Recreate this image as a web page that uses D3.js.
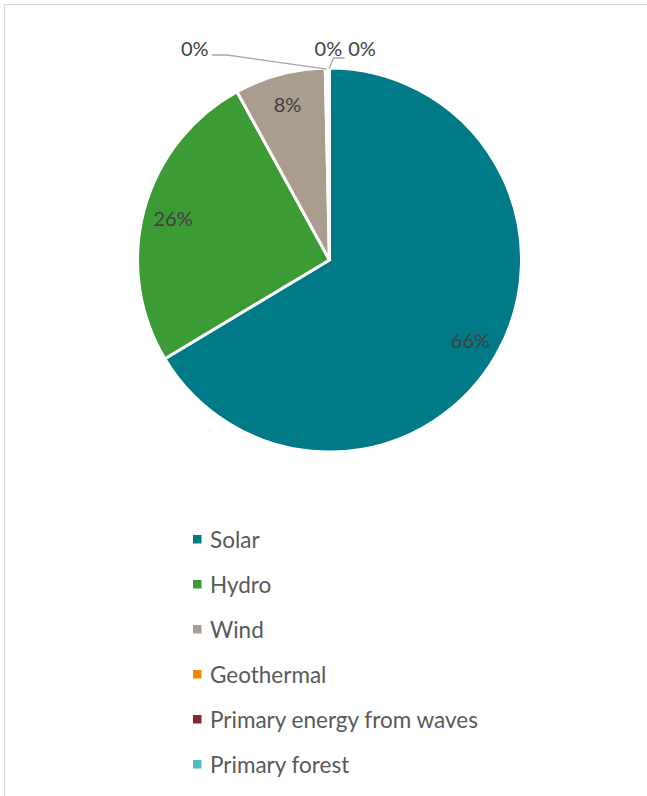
<!DOCTYPE html>
<html>
<head>
<meta charset="utf-8">
<script src="https://cdn.jsdelivr.net/npm/d3@7/dist/d3.min.js"></script>
<style>
  html, body { margin: 0; padding: 0; background: #ffffff; }
  svg { display: block; }
  text { font-family: Lato, "Open Sans", sans-serif; }
</style>
</head>
<body>
<svg id="chart" width="647" height="796"></svg>
<script>
// Share of renewable sources (percent)
const categories = ["Solar", "Hydro", "Wind", "Geothermal", "Primary energy from waves", "Primary forest"];
const shares = [66.4, 25.6, 7.65, 0.25, 0.02, 0.08];
const colors = ["#007a87", "#3d9b35", "#ab9c90", "#f28a00", "#8b2332", "#4fbdbd"];

const cx = 329.5, cy = 260, R = 192;

const svg = d3.select("#chart");

// outer frame
svg.append("rect")
  .attr("x", 4.5).attr("y", 4.5)
  .attr("width", 800).attr("height", 900)
  .attr("fill", "none").attr("stroke", "#d9d9d9").attr("stroke-width", 1);

const data = categories.map((c, i) => ({ name: c, value: shares[i], color: colors[i] }));
const total = d3.sum(shares);

const pie = d3.pie().value(d => d.value).sort(null)
  .startAngle(0).endAngle(2 * Math.PI);
const arcs = pie(data);

const arc = d3.arc().innerRadius(0).outerRadius(R);
const labelArc = d3.arc().innerRadius(162).outerRadius(162);
const edgeArc = d3.arc().innerRadius(R).outerRadius(R);

const g = svg.append("g").attr("transform", `translate(${cx},${cy})`);

g.selectAll("path.slice")
  .data(arcs)
  .join("path")
  .attr("class", "slice")
  .attr("d", arc)
  .attr("fill", d => d.data.color)
  .attr("stroke", "#ffffff")
  .attr("stroke-width", 3)
  .attr("stroke-linejoin", "miter");

const pct = d => Math.round(d.data.value / total * 100) + "%";

// labels inside the large slices
const big = arcs.filter(d => d.data.value / total >= 0.05);
g.selectAll("text.inner")
  .data(big)
  .join("text")
  .attr("class", "inner")
  .attr("transform", d => `translate(${labelArc.centroid(d)})`)
  .attr("text-anchor", "middle")
  .attr("dominant-baseline", "central")
  .attr("font-size", 20)
  .attr("fill", "#404040")
  .text(pct);

// outside labels for the thin slices, with leader lines
const small = arcs.filter(d => d.data.value / total < 0.05);
const outside = {
  "Geothermal": { label: [-132, -212], line: [[-100, -205], [-115, -205]] },
  "Primary energy from waves": { label: [0, -212], line: null },
  "Primary forest": { label: [33, -212], line: [[4.5, -202], [15.5, -202]] }
};

small.forEach(d => {
  const o = outside[d.data.name];
  const a = edgeArc.centroid(d);
  g.append("text")
    .attr("x", a[0] + o.label[0]).attr("y", o.label[1])
    .attr("text-anchor", "middle")
    .attr("dominant-baseline", "central")
    .attr("font-size", 20)
    .attr("fill", "#404040")
    .text(pct(d));
  if (o.line) {
    const pts = [[a[0], a[1] + 1]].concat(o.line.map(p => [a[0] + p[0], p[1]]));
    g.append("path")
      .attr("d", d3.line()(pts))
      .attr("fill", "none")
      .attr("stroke", "#a6a6a6")
      .attr("stroke-width", 1.3);
  }
});

// legend
const legend = svg.append("g").attr("transform", "translate(193,539)");
const item = legend.selectAll("g")
  .data(data)
  .join("g")
  .attr("transform", (d, i) => `translate(0,${i * 45})`);
item.append("rect")
  .attr("x", 0).attr("y", -4)
  .attr("width", 8.5).attr("height", 8.5)
  .attr("fill", d => d.color);
item.append("text")
  .attr("x", 17).attr("y", 0)
  .attr("dominant-baseline", "central")
  .attr("font-size", 22.5)
  .attr("fill", "#595959")
  .text(d => d.name);
</script>
</body>
</html>
